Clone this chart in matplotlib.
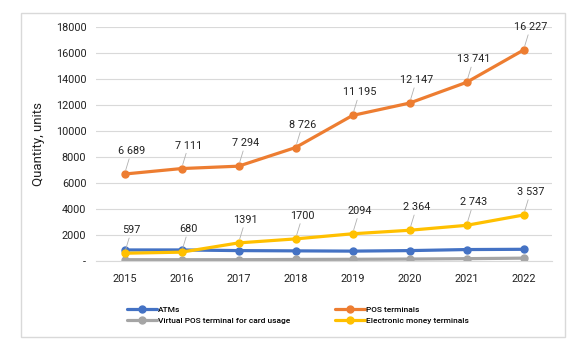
import matplotlib
matplotlib.use("Agg")
from matplotlib import pyplot as plt
from matplotlib.patches import Rectangle

plt.rcParams['font.family'] = ['Roboto', 'DejaVu Sans']

years = ["2015", "2016", "2017", "2018", "2019", "2020", "2021", "2022"]
atms = [850, 850, 800, 780, 760, 800, 880, 900]
pos_terminals = [6689, 7111, 7294, 8726, 11195, 12147, 13741, 16227]
virtual_pos = [100, 100, 100, 120, 130, 150, 180, 220]
emoney_terminals = [597, 680, 1391, 1700, 2094, 2364, 2743, 3537]
pos_labels = ["6 689", "7 111", "7 294", "8 726", "11 195", "12 147", "13 741", "16 227"]
emoney_labels = ["597", "680", "1391", "1700", "2094", "2 364", "2 743", "3 537"]
y_ticks = [0, 2000, 4000, 6000, 8000, 10000, 12000, 14000, 16000, 18000]
y_tick_labels = ["-"] + [str(v) for v in y_ticks[1:]]

fig = plt.figure(figsize=(5.79, 3.41), dpi=100)
fig.patches.append(Rectangle((21 / 579, 1 - 337 / 341), (565 - 21) / 579, (337 - 13) / 341,
                             transform=fig.transFigure, fill=False, edgecolor="#d9d9d9", lw=1))
ax = fig.add_axes([96 / 579, 1 - 261 / 341, (552 - 96) / 579, (261 - 27) / 341])

x = list(range(len(years)))
series = [
    (atms, "ATMs", "#4472C4"),
    (pos_terminals, "POS terminals", "#ED7D31"),
    (virtual_pos, "Virtual POS terminal for card usage", "#A5A5A5"),
    (emoney_terminals, "Electronic money terminals", "#FFC000"),
]
for vals, name, col in series:
    ax.plot(x, vals, color=col, lw=2.3, marker="o", markersize=5, label=name,
            solid_capstyle="round")

for vals, labels in [(pos_terminals, pos_labels), (emoney_terminals, emoney_labels)]:
    for i, (v, lab) in enumerate(zip(vals, labels)):
        ax.annotate(lab, (i, v), xytext=(7, 18), textcoords="offset pixels",
                    ha="center", va="bottom", fontsize=7.8, color="#222222",
                    arrowprops=dict(arrowstyle="-", color="#b0b0b0", lw=0.6,
                                    shrinkA=0, shrinkB=3))

ax.set_xlim(-0.5, len(years) - 0.5)
ax.set_ylim(0, 18000)
ax.set_xticks(x)
ax.set_xticklabels(years, fontsize=7.8)
ax.set_yticks(y_ticks)
ax.set_yticklabels(y_tick_labels, fontsize=7.8)
ax.tick_params(length=0, pad=7, colors="#222222")
ax.tick_params(axis="x", pad=9)
ax.grid(axis="y", color="#d9d9d9", lw=0.8)
ax.set_axisbelow(True)
for s in ["top", "right", "left"]:
    ax.spines[s].set_visible(False)
ax.spines["bottom"].set_color("#d9d9d9")
ax.set_ylabel("Quantity, units", fontsize=9.5, color="#222222", labelpad=8)

h, l = ax.get_legend_handles_labels()
order = [0, 2, 1, 3]
fig.legend([h[i] for i in order], [l[i] for i in order], ncol=2, frameon=False,
           loc="center", bbox_to_anchor=(298 / 579, 1 - 315 / 341),
           prop={"size": 6.0, "weight": "medium"}, handlelength=3.6, handletextpad=0.1,
           columnspacing=5.4, labelspacing=0.5)

fig.savefig("out.png", dpi=100)
